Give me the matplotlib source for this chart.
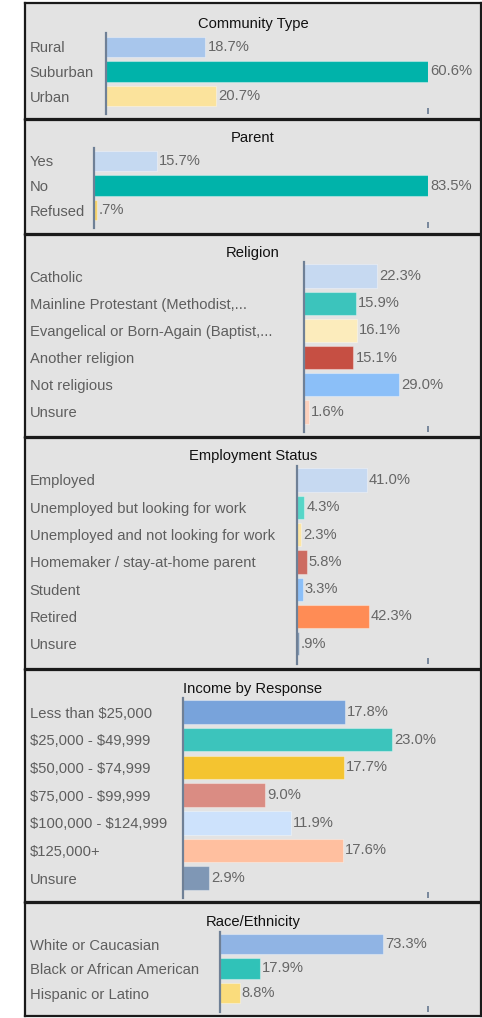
import matplotlib
matplotlib.use("Agg")
import matplotlib.pyplot as plt

plt.rcParams['font.family'] = ['Liberation Sans', 'DejaVu Sans']
plt.rcParams['text.parse_math'] = False  # dollar signs in income labels

#%% data

community_labels = ['Rural', 'Suburban', 'Urban']
community_values = [18.7, 60.6, 20.7]
community_colors = ['#a8c6ec', '#00b3aa', '#fbe39c']

parent_labels = ['Yes', 'No', 'Refused']
parent_values = [15.7, 83.5, 0.7]
parent_colors = ['#c5d9f1', '#00b3aa', '#f6d36a']

religion_labels = ['Catholic', 'Mainline Protestant (Methodist,...',
                   'Evangelical or Born-Again (Baptist,...', 'Another religion',
                   'Not religious', 'Unsure']
religion_values = [22.3, 15.9, 16.1, 15.1, 29.0, 1.6]
religion_colors = ['#c6d9f1', '#3cc4bc', '#fcecbc', '#c64f43', '#8bbff8', '#fcd0bc']

employment_labels = ['Employed', 'Unemployed but looking for work',
                     'Unemployed and not looking for work',
                     'Homemaker / stay-at-home parent', 'Student', 'Retired', 'Unsure']
employment_values = [41.0, 4.3, 2.3, 5.8, 3.3, 42.3, 0.9]
employment_colors = ['#c6d9f1', '#56d6c8', '#fde6a2', '#cd6b61', '#8bbff8', '#ff8c55', '#7f97b3']

income_labels = ['Less than $25,000', '$25,000 - $49,999', '$50,000 - $74,999',
                 '$75,000 - $99,999', '$100,000 - $124,999', '$125,000+', 'Unsure']
income_values = [17.8, 23.0, 17.7, 9.0, 11.9, 17.6, 2.9]
income_colors = ['#78a3db', '#3cc4bc', '#f4c430', '#da8c83', '#cde2fc', '#ffbf9f', '#7f97b5']

race_labels = ['White or Caucasian', 'Black or African American', 'Hispanic or Latino']
race_values = [73.3, 17.9, 8.8]
race_colors = ['#90b4e4', '#30c2b8', '#fadc7c']

titles = ['Community Type', 'Parent', 'Religion', 'Employment Status',
          'Income by Response', 'Race/Ethnicity']

#%% layout (pixels)

W, H = 482, 1018
# box top, box bottom, axis x, axis top, axis bottom, first row, row step, xmax, title y
panels = [
    (community_labels, community_values, community_colors, 3, 119, 106, 33, 114, 47, 24.5, 60.6, 24),
    (parent_labels, parent_values, parent_colors, 120, 234, 94, 148, 228, 161, 24.5, 83.5, 138),
    (religion_labels, religion_values, religion_colors, 235, 437, 304, 262, 432, 276, 27.2, 37.9, 253),
    (employment_labels, employment_values, employment_colors, 438, 669, 297, 466, 664, 480, 27.3, 77.2, 456),
    (income_labels, income_values, income_colors, 670, 902, 183, 698, 898, 712, 27.7, 27.0, 689),
    (race_labels, race_values, race_colors, 903, 1016, 220, 932, 1012, 944, 24.5, 93.4, 922),
]
box_left, box_right = 25, 481
label_x = 29.5
tick_x = 428
fs = 10.6

fig = plt.figure(figsize=(W / 100, H / 100), dpi=100)
fig.patch.set_facecolor('white')

for title, (labels, values, colors, btop, bbot, ax_x, atop, abot, row0, step, xmax, ty) in zip(titles, panels):
    # panel box
    box = fig.add_axes([box_left / W, 1 - bbot / H, (box_right - box_left) / W, (bbot - btop) / H])
    box.set_facecolor('#e3e3e3')
    box.set_xticks([])
    box.set_yticks([])
    for s in box.spines.values():
        s.set_color('#1a1a1a')
        s.set_linewidth(1.6)
    fig.text((box_left + box_right) / 2 / W, 1 - ty / H, title, ha='center', va='center',
             fontsize=fs, color='#111111')

    # bar axes
    ax = fig.add_axes([ax_x / W, 1 - abot / H, (tick_x - ax_x) / W, (abot - atop) / H])
    ax.patch.set_alpha(0)
    n = len(values)
    ypos = list(range(n))
    ax.barh(ypos, values, height=0.85, color=colors, edgecolor=(1, 1, 1, 0.35), linewidth=0.8)
    ax.set_xlim(0, xmax)
    last = row0 + (n - 1) * step
    ax.set_ylim((n - 1) + (abot - last) / step, -(row0 - atop) / step)

    for y, v in zip(ypos, values):
        txt = '{0:.1f}%'.format(v)
        if txt.startswith('0'):
            txt = txt[1:]
        ax.annotate(txt, (v, y), xytext=(1.5, 0), textcoords='offset points',
                    ha='left', va='center', fontsize=fs, color='#666666')

    ax.set_yticks(ypos, labels)
    ax.tick_params(axis='y', length=0, pad=(ax_x - label_x) * 0.72, labelsize=fs, labelcolor='#5e5e5e')
    for lab in ax.get_yticklabels():
        lab.set_ha('left')
    ax.set_xticks([xmax], [''])
    ax.tick_params(axis='x', direction='in', length=4.5, width=1.3, color='#6f8096')
    for side in ['top', 'right', 'bottom']:
        ax.spines[side].set_visible(False)
    ax.spines['left'].set_color('#6f8096')
    ax.spines['left'].set_linewidth(1.6)

fig.savefig('out.png', dpi=100, facecolor='white')
